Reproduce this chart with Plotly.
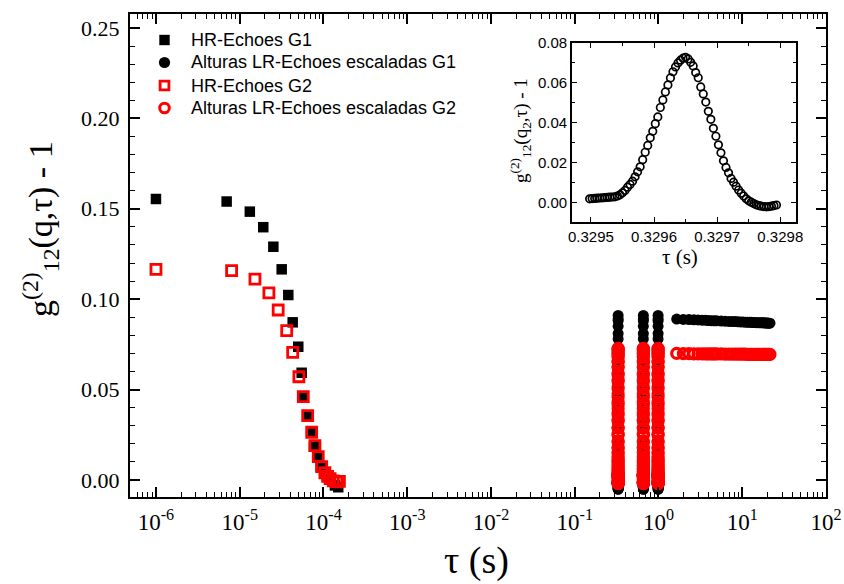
import plotly.graph_objects as go

# ---------------- data ----------------
# HR-Echoes G1 (tau in s, g12-1)
hr_g1_tau = [1.0e-6, 6.98e-6, 1.32e-5, 1.91e-5, 2.52e-5, 3.17e-5, 3.80e-5, 4.29e-5, 5.00e-5, 5.49e-5,
             5.74e-5, 6.48e-5, 7.23e-5, 7.70e-5, 8.53e-5, 9.27e-5, 1.04e-4, 1.20e-4, 1.37e-4, 1.50e-4]
hr_g1_val = [0.1554, 0.1540, 0.1484, 0.1398, 0.1290, 0.1165, 0.1023, 0.0872, 0.0737, 0.0593,
             0.0457, 0.0356, 0.0264, 0.0184, 0.0129, 0.0074, 0.0037, 0.0005, -0.0030, -0.0040]

# HR-Echoes G2
hr_g2_tau = [1.0e-6, 8.0e-6, 1.52e-5, 2.23e-5, 2.88e-5, 3.64e-5, 4.29e-5, 5.09e-5, 5.74e-5, 6.48e-5,
             7.23e-5, 7.91e-5, 8.66e-5, 9.52e-5, 1.04e-4, 1.12e-4, 1.20e-4, 1.31e-4, 1.44e-4, 1.55e-4]
hr_g2_val = [0.1165, 0.1158, 0.1111, 0.1035, 0.0940, 0.0826, 0.0706, 0.0571, 0.0461, 0.0356,
             0.0264, 0.0190, 0.0129, 0.0074, 0.0040, 0.0020, 0.0008, -0.0005, -0.0010, -0.0008]

# First echo peak (inset): tau (s) and g12(q2,tau)-1 for G2
peak_tau = [0.329498, 0.329502, 0.329506, 0.329510, 0.329514, 0.329518, 0.329522, 0.329526, 0.329530, 0.329534,
            0.329538, 0.329542, 0.329546, 0.329550, 0.329554, 0.329558, 0.329562, 0.329566, 0.329570, 0.329574,
            0.329578, 0.329582, 0.329586, 0.329590, 0.329594, 0.329598, 0.329602, 0.329606, 0.329610, 0.329614,
            0.329618, 0.329622, 0.329626, 0.329630, 0.329634, 0.329638, 0.329642, 0.329646, 0.329650, 0.329654,
            0.329658, 0.329662, 0.329666, 0.329670, 0.329674, 0.329678, 0.329682, 0.329686, 0.329690, 0.329694,
            0.329698, 0.329702, 0.329706, 0.329710, 0.329714, 0.329718, 0.329722, 0.329726, 0.329730, 0.329734,
            0.329738, 0.329742, 0.329746, 0.329750, 0.329754, 0.329758, 0.329762, 0.329766, 0.329770, 0.329774,
            0.329778, 0.329782, 0.329786, 0.329790, 0.329794]
peak_g2 = [0.0020, 0.0021, 0.0022, 0.0023, 0.0024, 0.0025, 0.0026, 0.0027, 0.0028, 0.0029,
           0.0030, 0.0034, 0.0040, 0.0050, 0.0062, 0.0078, 0.0092, 0.0108, 0.0130, 0.0155,
           0.0180, 0.0216, 0.0253, 0.0287, 0.0325, 0.0358, 0.0396, 0.0430, 0.0477, 0.0515,
           0.0555, 0.0590, 0.0625, 0.0656, 0.0680, 0.0700, 0.0714, 0.0724, 0.0728, 0.0720,
           0.0703, 0.0685, 0.0652, 0.0626, 0.0580, 0.0545, 0.0504, 0.0458, 0.0418, 0.0373,
           0.0333, 0.0290, 0.0250, 0.0210, 0.0177, 0.0150, 0.0122, 0.0103, 0.0083, 0.0064,
           0.0048, 0.0034, 0.0020, 0.0010, 0.0003, -0.0004, -0.0010, -0.0014, -0.0017, -0.0019,
           -0.0020, -0.0019, -0.0017, -0.0014, -0.0011]
# G1 peak, sampled on every second tau of the peak
peak_g1 = [-0.002, -0.002, -0.002, -0.001, -0.001, 0.000, 0.002, 0.005, 0.009, 0.014,
           0.021, 0.030, 0.039, 0.049, 0.059, 0.069, 0.078, 0.085, 0.089, 0.091,
           0.088, 0.081, 0.072, 0.062, 0.051, 0.040, 0.030, 0.021, 0.014, 0.008,
           0.003, 0.000, -0.002, -0.004, -0.005, -0.005, -0.005, -0.004]
echo_index = [1, 2, 3]

# Scaled LR-Echo heights at later echoes
lr_tau = [1.65, 1.98, 2.31, 2.64, 2.97, 3.30, 3.63, 3.96, 4.29, 4.61, 4.94, 5.60, 6.26, 6.92, 7.58, 8.24,
          8.90, 9.56, 10.22, 10.88, 11.54, 12.20, 12.86, 13.51, 14.17, 14.83, 15.49, 16.15, 16.81, 17.47,
          18.13, 18.79, 19.45, 20.11, 20.77, 21.43]
lr_g1 = [0.0890, 0.0888, 0.0887, 0.0886, 0.0885, 0.0884, 0.0883, 0.0882, 0.0881, 0.0880, 0.0880, 0.0879,
         0.0878, 0.0877, 0.0876, 0.0876, 0.0875, 0.0874, 0.0874, 0.0873, 0.0873, 0.0872, 0.0872, 0.0871,
         0.0871, 0.0870, 0.0870, 0.0870, 0.0869, 0.0869, 0.0869, 0.0868, 0.0868, 0.0868, 0.0867, 0.0867]
lr_g2 = [0.0700, 0.0699, 0.0699, 0.0698, 0.0698, 0.0698, 0.0697, 0.0697, 0.0697, 0.0697, 0.0697, 0.0697,
         0.0696, 0.0696, 0.0696, 0.0696, 0.0696, 0.0696, 0.0696, 0.0696, 0.0695, 0.0695, 0.0695, 0.0695,
         0.0695, 0.0695, 0.0695, 0.0695, 0.0695, 0.0695, 0.0695, 0.0695, 0.0695, 0.0695, 0.0695, 0.0695]

series_names = ["HR-Echoes G1", "Alturas LR-Echoes escaladas G1",
                "HR-Echoes G2", "Alturas LR-Echoes escaladas G2"]

assert len(peak_tau) == len(peak_g2) == 75
assert len(peak_g1) == len(peak_tau[::2])
assert len(lr_tau) == len(lr_g1) == len(lr_g2)

x_decades = [-6, -5, -4, -3, -2, -1, 0, 1, 2]
y_ticks = [0.00, 0.05, 0.10, 0.15, 0.20, 0.25]
inset_xticks = [0.3295, 0.3296, 0.3297, 0.3298]
inset_yticks = [0.00, 0.02, 0.04, 0.06, 0.08]

# ---------------- assemble LR series ----------------
g1_tau, g1_val, g2_tau, g2_val = [], [], [], []
for k in echo_index:
    g1_tau += [t * k for t in peak_tau[::2]]
    g1_val += peak_g1
    g2_tau += [t * k for t in peak_tau]
    g2_val += peak_g2
g1_tau += lr_tau
g1_val += lr_g1
g2_tau += lr_tau
g2_val += lr_g2

RED = "#ff0000"
serif = "Liberation Serif"
sans = "Liberation Sans, Arial"

# plot area in pixels (for placing texts)
L, R, T, B = 130, 826, 14, 497
def px(x):
    return (x - L) / (R - L)
def py(y):
    return 1 - (y - T) / (B - T)

sq_black = dict(symbol="square", size=10.5, color="black", line=dict(width=0))
ci_black = dict(symbol="circle", size=11, color="black", line=dict(width=0))
sq_red = dict(symbol="square-open", size=10, color=RED, line=dict(width=2.8, color=RED))
ci_red = dict(symbol="circle-open", size=10, color=RED, line=dict(width=3.2, color=RED))

fig = go.Figure()
fig.add_trace(go.Scatter(x=hr_g1_tau, y=hr_g1_val, mode="markers", name=series_names[0],
                         marker=sq_black, showlegend=False))
fig.add_trace(go.Scatter(x=g1_tau, y=g1_val, mode="markers", name=series_names[1],
                         marker=ci_black, showlegend=False))
fig.add_trace(go.Scatter(x=hr_g2_tau, y=hr_g2_val, mode="markers", name=series_names[2],
                         marker=sq_red, showlegend=False))
fig.add_trace(go.Scatter(x=g2_tau, y=g2_val, mode="markers", name=series_names[3],
                         marker=ci_red, showlegend=False))
# inset
fig.add_trace(go.Scatter(x=peak_tau, y=peak_g2, mode="markers", showlegend=False, xaxis="x2", yaxis="y2",
                         marker=dict(symbol="circle-open", size=7.5, color="black",
                                     line=dict(width=1.7, color="black"))))

minor_x = [m * 10 ** d for d in range(-7, 2) for m in range(2, 10)]

# manual legend (symbol shapes + texts)
legend_rows_y = [40, 62.5, 85.5, 108]
legend_sym_x = 164.5
legend_txt_x = 189
shapes = []
annotations = []
sym_specs = [("rect", "black", "black", 0, 5.2),
             ("circle", "black", "black", 0, 5.6),
             ("rect", "rgba(0,0,0,0)", RED, 2.8, 4.4),
             ("circle", "rgba(0,0,0,0)", RED, 3.0, 4.8)]
for (kind, fill, lc, lw, h), yy, name in zip(sym_specs, legend_rows_y, series_names):
    shapes.append(dict(type=kind, xref="paper", yref="paper", xsizemode="pixel", ysizemode="pixel",
                       xanchor=px(legend_sym_x), yanchor=py(yy), x0=-h, x1=h, y0=-h, y1=h,
                       fillcolor=fill, line=dict(color=lc, width=lw)))
    annotations.append(dict(text=name, xref="paper", yref="paper", x=px(legend_txt_x), y=py(yy),
                            xanchor="left", yanchor="middle", showarrow=False,
                            font=dict(family=sans, size=18, color="black")))

annotations += [
    dict(text="τ (s)", xref="paper", yref="paper", x=px(476), y=py(560),
         xanchor="center", yanchor="middle", showarrow=False,
         font=dict(family=serif, size=38, color="black")),
    dict(text="g<sup>(2)</sup><sub>12</sub>(q,τ) - 1", xref="paper", yref="paper",
         x=px(40), y=py(229), textangle=-90,
         xanchor="center", yanchor="middle", showarrow=False,
         font=dict(family=serif, size=34, color="black")),
    dict(text="τ (s)", xref="paper", yref="paper", x=px(680), y=py(257),
         xanchor="center", yanchor="middle", showarrow=False,
         font=dict(family=serif, size=21, color="black")),
    dict(text="g<sup>(2)</sup><sub>12</sub>(q<sub>2</sub>,τ) - 1", xref="paper", yref="paper",
         x=px(520), y=py(131), textangle=-90,
         xanchor="center", yanchor="middle", showarrow=False,
         font=dict(family=serif, size=19, color="black")),
]

common = dict(showline=True, linecolor="black", mirror="allticks", showgrid=False,
              zeroline=False, automargin=False, tickcolor="black", ticks="inside")

fig.update_layout(
    width=844, height=584,
    margin=dict(l=L, r=844 - R, t=T, b=584 - B),
    paper_bgcolor="white", plot_bgcolor="white",
    showlegend=False,
    xaxis=dict(type="log", range=[-6.31, 2.0], domain=[0, 1],
               tickvals=[10 ** d for d in x_decades],
               ticktext=["10<sup>%d</sup>" % d for d in x_decades],
               ticklen=10, tickwidth=1.5, linewidth=2,
               minor=dict(tickvals=minor_x, ticks="inside", ticklen=5, tickwidth=1.2, tickcolor="black"),
               tickfont=dict(family=serif, size=23, color="black"), ticklabelstandoff=3, **common),
    yaxis=dict(range=[-0.0094, 0.2577], domain=[0, 1],
               tickvals=y_ticks, tickformat=".2f",
               ticklen=10, tickwidth=1.5, linewidth=2,
               minor=dict(dtick=0.01, tick0=0, ticks="inside", ticklen=5, tickwidth=1.2, tickcolor="black"),
               tickfont=dict(family=serif, size=22, color="black"), ticklabelstandoff=4, **common),
    xaxis2=dict(domain=[0.635, 0.957], anchor="y2", range=[0.32947, 0.329825],
                tickvals=inset_xticks, tickformat=".4f",
                ticklen=5, tickwidth=1, linewidth=1.5,
                minor=dict(dtick=0.00005, tick0=0.3295, ticks="inside", ticklen=3, tickwidth=1, tickcolor="black"),
                tickfont=dict(family=sans, size=15, color="black"), **common),
    yaxis2=dict(domain=[0.569, 0.940], anchor="x2", range=[-0.0097, 0.08],
                tickvals=inset_yticks, tickformat=".2f",
                ticklen=5, tickwidth=1, linewidth=1.5,
                minor=dict(dtick=0.01, tick0=0, ticks="inside", ticklen=3, tickwidth=1, tickcolor="black"),
                tickfont=dict(family=sans, size=15, color="black"), **common),
    shapes=shapes,
    annotations=annotations,
)

fig.write_html("out.html")
